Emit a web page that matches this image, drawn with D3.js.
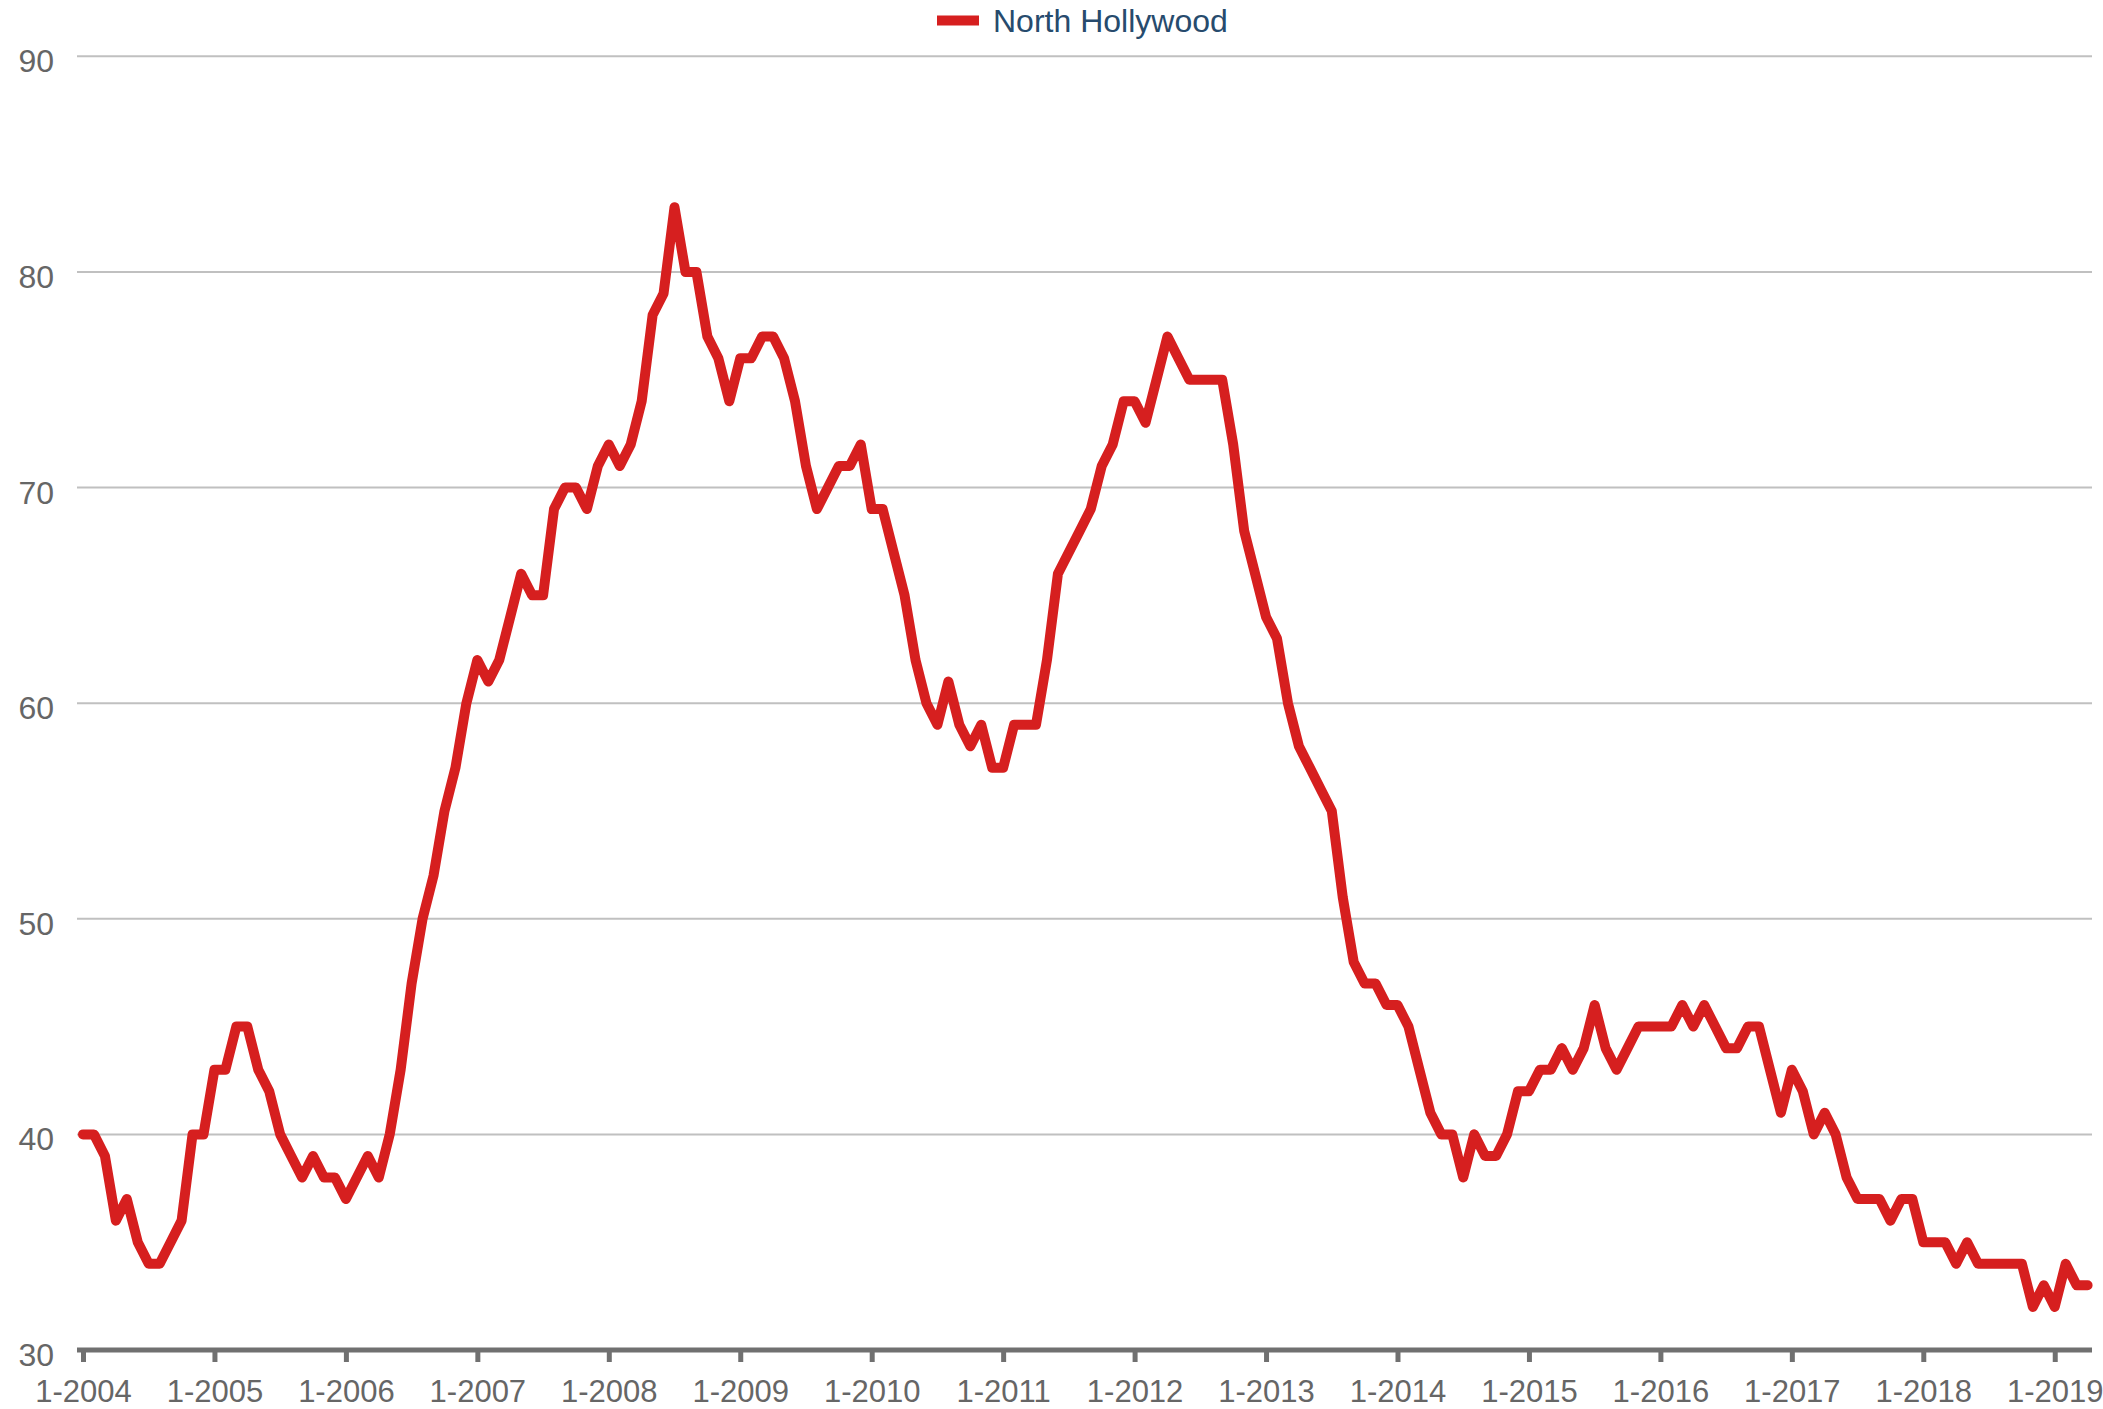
<!DOCTYPE html>
<html>
<head>
<meta charset="utf-8">
<title>North Hollywood</title>
<script src="https://d3js.org/d3.v7.min.js"></script>
<style>
  body { margin: 0; background: #fff; }
  svg text { font-family: "Liberation Sans", Arial, sans-serif; }
</style>
</head>
<body>
<svg width="2103" height="1409"></svg>

<script>
    const seriesName = "North Hollywood";
    const startYear = 2004;

    // monthly values, 1-2004 .. 4-2019
    const values = [
        40, 40, 39, 36, 37, 35, 34, 34, 35, 36, 40, 40,   // 2004
        43, 43, 45, 45, 43, 42, 40, 39, 38, 39, 38, 38,   // 2005
        37, 38, 39, 38, 40, 43, 47, 50, 52, 55, 57, 60,   // 2006
        62, 61, 62, 64, 66, 65, 65, 69, 70, 70, 69, 71,   // 2007
        72, 71, 72, 74, 78, 79, 83, 80, 80, 77, 76, 74,   // 2008
        76, 76, 77, 77, 76, 74, 71, 69, 70, 71, 71, 72,   // 2009
        69, 69, 67, 65, 62, 60, 59, 61, 59, 58, 59, 57,   // 2010
        57, 59, 59, 59, 62, 66, 67, 68, 69, 71, 72, 74,   // 2011
        74, 73, 75, 77, 76, 75, 75, 75, 75, 72, 68, 66,   // 2012
        64, 63, 60, 58, 57, 56, 55, 51, 48, 47, 47, 46,   // 2013
        46, 45, 43, 41, 40, 40, 38, 40, 39, 39, 40, 42,   // 2014
        42, 43, 43, 44, 43, 44, 46, 44, 43, 44, 45, 45,   // 2015
        45, 45, 46, 45, 46, 45, 44, 44, 45, 45, 43, 41,   // 2016
        43, 42, 40, 41, 40, 38, 37, 37, 37, 36, 37, 37,   // 2017
        35, 35, 35, 34, 35, 34, 34, 34, 34, 34, 32, 33,   // 2018
        32, 34, 33, 33                                    // 2019
    ];

    const yTicks = [30, 40, 50, 60, 70, 80, 90];
    const xTickLabels = ["1-2004", "1-2005", "1-2006", "1-2007", "1-2008", "1-2009", "1-2010", "1-2011",
                         "1-2012", "1-2013", "1-2014", "1-2015", "1-2016", "1-2017", "1-2018", "1-2019"];

    const months = values.map((d, i) => (i % 12 + 1) + "-" + (startYear + Math.floor(i / 12)));
    const data = values.map((v, i) => ({month: months[i], value: v}));

    const plotLeft = 77, plotRight = 2092;
    const svg = d3.select("svg");

    const x = d3.scalePoint()
        .domain(months)
        .range([83, 2087.6]);
    const y = d3.scaleLinear()
        .domain([30, 90])
        .range([1350, 56.3]);

    // grid lines
    svg.append("g")
        .selectAll("line").data(yTicks.filter(t => t > 30)).enter().append("line")
            .attr("x1", plotLeft)
            .attr("x2", plotRight)
            .attr("y1", d => y(d))
            .attr("y2", d => y(d))
            .attr("stroke", "#c0c0c0")
            .attr("stroke-width", 2);

    // y labels
    svg.append("g")
        .selectAll("text").data(yTicks).enter().append("text")
            .attr("x", 54)
            .attr("y", d => y(d) + 16)
            .attr("text-anchor", "end")
            .attr("font-size", 32)
            .attr("fill", "#666")
            .text(d => d);

    // x axis
    const xAxis = d3.axisBottom(x)
        .tickValues(xTickLabels)
        .tickSize(12)
        .tickPadding(18);

    const gx = svg.append("g")
        .attr("transform", "translate(0," + y(30) + ")")
        .call(xAxis);
    gx.select(".domain").remove();
    gx.append("line")
        .attr("x1", plotLeft)
        .attr("x2", plotRight)
        .attr("stroke", "#707070")
        .attr("stroke-width", 5);
    gx.selectAll(".tick line")
        .attr("stroke", "#707070")
        .attr("stroke-width", 5);
    gx.selectAll(".tick text")
        .attr("font-size", 31)
        .attr("font-family", "Liberation Sans, Arial, sans-serif")
        .attr("fill", "#666");

    // the series
    const line = d3.line()
        .x(d => x(d.month))
        .y(d => y(d.value));

    svg.append("path")
        .datum(data)
        .attr("d", line)
        .attr("fill", "none")
        .attr("stroke", "#d61f1f")
        .attr("stroke-width", 10)
        .attr("stroke-linejoin", "round")
        .attr("stroke-linecap", "round");

    // legend
    const legend = svg.append("g");
    legend.append("rect")
        .attr("x", 937)
        .attr("y", 15.5)
        .attr("width", 42)
        .attr("height", 10)
        .attr("fill", "#d61f1f");
    legend.append("text")
        .attr("x", 993)
        .attr("y", 32)
        .attr("font-size", 32)
        .attr("fill", "#274b6d")
        .text(seriesName);
</script>
</body>
</html>
